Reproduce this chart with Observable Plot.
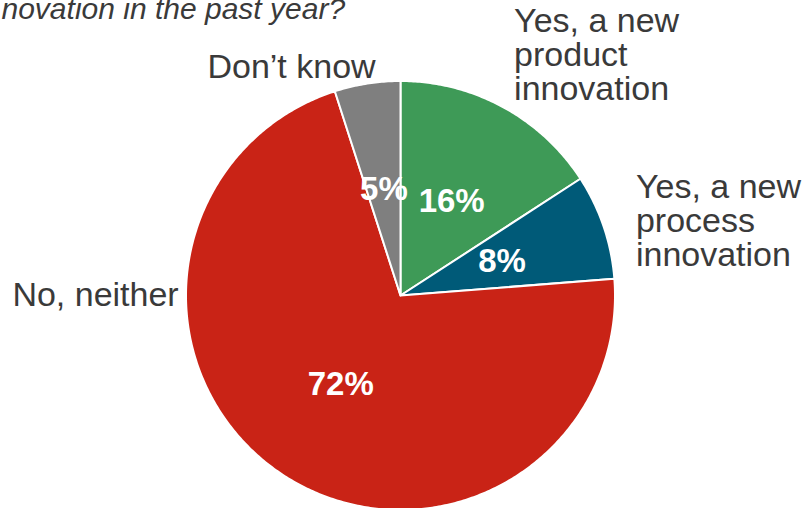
<!DOCTYPE html>
<html>
<head>
<meta charset="utf-8">
<script src="https://cdn.jsdelivr.net/npm/d3@7"></script>
<script src="https://cdn.jsdelivr.net/npm/@observablehq/plot@0.6"></script>
<style>
  html, body { margin: 0; padding: 0; background: #ffffff; }
  #chart { width: 808px; height: 508px; overflow: hidden; }
</style>
</head>
<body>
<div id="chart"></div>
<script>
// ---- data ----
const titleText = "novation in the past year?";
const categories = ["Yes, a new product innovation", "Yes, a new process innovation", "No, neither", "Don\u2019t know"];
const labelLines = ["Yes, a new\nproduct\ninnovation", "Yes, a new\nprocess\ninnovation", "No, neither", "Don\u2019t know"];
const values = [16, 8, 72, 5];
const valueLabels = ["16%", "8%", "72%", "5%"];

// ---- style / layout (kept apart from data) ----
const colors = ["#3e9a57", "#005a78", "#c92316", "#7f7f7f"];
const placement = [
  {anchor: "start", line: "bottom", r: 1.08, dx: 3, dy: 8},
  {anchor: "start", line: "middle", r: 1.08, dx: 16, dy: 0},
  {anchor: "end", line: "middle", r: 1.02, angle: 1.5 * Math.PI, dx: -3, dy: 0},
  {anchor: "end", line: "middle", r: 1.08, dx: 11, dy: 0}
];

// ---- geometry from d3.pie ----
const pie = d3.pie().sort(null).startAngle(0).endAngle(2 * Math.PI)(values);
const slicePoints = [];
pie.forEach((p, i) => {
  const n = Math.max(2, Math.ceil((p.endAngle - p.startAngle) / 0.01));
  slicePoints.push({cat: categories[i], x: 0, y: 0});
  for (let k = 0; k <= n; k++) {
    const a = p.startAngle + (p.endAngle - p.startAngle) * k / n;
    slicePoints.push({cat: categories[i], x: Math.sin(a), y: Math.cos(a)});
  }
  slicePoints.push({cat: categories[i], x: 0, y: 0});
});
const mid = p => (p.startAngle + p.endAngle) / 2;
const inner = pie.map((p, i) => ({label: valueLabels[i], x: 0.5 * Math.sin(mid(p)), y: 0.5 * Math.cos(mid(p))}));
const outer = pie.map((p, i) => {
  const a = placement[i].angle ?? mid(p);
  return {label: labelLines[i], x: placement[i].r * Math.sin(a), y: placement[i].r * Math.cos(a)};
});

const font = "'Liberation Sans', Arial, sans-serif";
const outerMarks = outer.map((d, i) => Plot.text([d], {
  x: "x", y: "y", text: "label",
  textAnchor: placement[i].anchor, lineAnchor: placement[i].line,
  dx: placement[i].dx, dy: placement[i].dy,
  fontSize: 34, lineHeight: 1.0, fill: "#3a3a3a", fontFamily: font
}));

const chart = Plot.plot({
  width: 808, height: 508,
  margin: 0,
  style: {fontFamily: font, background: "#ffffff", overflow: "hidden"},
  x: {domain: [-1, 1], range: [185.5, 614.5], axis: null},
  y: {domain: [-1, 1], range: [509.5, 80.5], axis: null},
  color: {domain: categories, range: colors},
  marks: [
    Plot.line(slicePoints, {x: "x", y: "y", z: "cat", fill: "cat", stroke: "#ffffff", strokeWidth: 2, strokeLinejoin: "round"}),
    Plot.text(inner, {x: "x", y: "y", text: "label", fill: "#ffffff", fontSize: 33, fontWeight: "bold", fontFamily: font}),
    ...outerMarks,
    Plot.text([titleText], {frameAnchor: "top-left", text: d => d, dx: 1, dy: -3, lineAnchor: "top", fontSize: 30, fontStyle: "italic", fill: "#3a3a3a", fontFamily: font})
  ]
});
document.getElementById("chart").appendChild(chart);
</script>
</body>
</html>
